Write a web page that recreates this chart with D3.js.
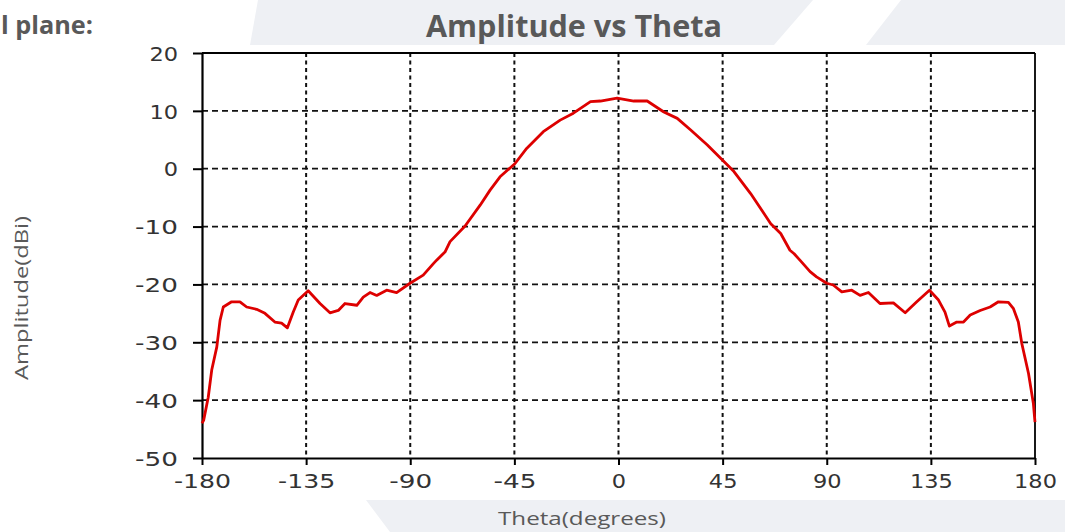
<!DOCTYPE html>
<html>
<head>
<meta charset="utf-8">
<script src="https://cdn.jsdelivr.net/npm/d3@7"></script>
<style>
  html, body { margin: 0; padding: 0; background: #ffffff; }
  svg { display: block; }
</style>
</head>
<body>
<svg id="chart" width="1065" height="532"></svg>
<script>
// ---- data ----
const theta = [-180, -179.3, -177.3, -175.8, -173.6, -172.2, -170.8, -167.2, -163.6, -160.7,
  -156.4, -152.8, -148.5, -145.6, -143.1, -140.6, -138.4, -134.1, -129.0, -124.7,
  -121.1, -118.2, -113.1, -110.3, -107.4, -104.5, -100.2, -95.9, -90.1, -84.4,
  -80.0, -78.6, -75.0, -72.8, -66.3, -59.8, -55.5, -51.2, -44.7, -39.7,
  -32.5, -25.2, -19.5, -12.1, -7.8, -0.6, 6.6, 12.4, 19.6, 25.4,
  31.2, 38.4, 44.9, 49.9, 57.1, 65.8, 70.1, 74.1, 75.9, 78.4,
  82.8, 85.6, 90.0, 92.8, 96.5, 100.8, 104.4, 108.0, 113.0, 118.8,
  123.9, 128.9, 134.4, 138.3, 141.1, 143.0, 146.2, 149.1, 152.0, 156.3,
  160.6, 164.2, 168.5, 170.7, 172.8, 174.3, 177.2, 179.3, 180];
const amplitude = [-44.0, -43.5, -39.5, -34.8, -30.8, -26.2, -23.9, -23.0, -23.0, -23.9,
  -24.3, -25.0, -26.5, -26.7, -27.5, -24.8, -22.7, -21.1, -23.3, -24.9,
  -24.5, -23.3, -23.6, -22.2, -21.4, -21.9, -21.0, -21.4, -19.8, -18.4,
  -16.4, -15.8, -14.4, -12.6, -9.9, -6.3, -3.7, -1.4, 0.9, 3.5,
  6.4, 8.4, 9.6, 11.6, 11.7, 12.2, 11.7, 11.7, 9.8, 8.7,
  6.7, 4.1, 1.5, -0.5, -4.3, -9.5, -11.2, -14.1, -14.7, -15.8,
  -17.8, -18.7, -19.8, -20.1, -21.3, -21.0, -21.9, -21.4, -23.3, -23.2,
  -24.9, -23.0, -21.0, -22.7, -24.8, -27.2, -26.5, -26.5, -25.3, -24.5,
  -23.9, -23.0, -23.1, -24.2, -26.5, -30.2, -35.4, -40.6, -43.8];
const xTicks = [-180, -135, -90, -45, 0, 45, 90, 135, 180];
const yTicks = [-50, -40, -30, -20, -10, 0, 10, 20];
const titleText = "Amplitude vs Theta";
const sideText = "l plane:";
const xLabel = "Theta(degrees)";
const yLabel = "Amplitude(dBi)";

// ---- layout ----
const svg = d3.select("#chart");
const pLeft = 202, pRight = 1035, pTop = 53, pBottom = 458;
const x = d3.scaleLinear().domain([-180, 180]).range([pLeft, pRight]);
const y = d3.scaleLinear().domain([-50, 20]).range([pBottom, pTop]);

// background watermark shapes
const bg = "#eef0f4";
svg.append("path").attr("fill", bg)
  .attr("d", "M258,0 L813,0 L774,45 L250,45 Z");
svg.append("path").attr("fill", bg)
  .attr("d", "M901,0 L1065,0 L1065,45 L866,45 Z");
svg.append("path").attr("fill", bg)
  .attr("d", "M366,500 L1065,500 L1065,532 L390,532 Z");

// titles
svg.append("text").text(sideText)
  .attr("x", 1).attr("y", 34)
  .attr("font-family", "'Open Sans', sans-serif").attr("font-weight", "bold")
  .attr("font-size", 25).attr("fill", "#595959")
  .attr("textLength", 92).attr("lengthAdjust", "spacingAndGlyphs");

svg.append("text").text(titleText)
  .attr("x", 426).attr("y", 37)
  .attr("font-family", "'Open Sans', sans-serif").attr("font-weight", "bold")
  .attr("font-size", 30).attr("fill", "#595959")
  .attr("textLength", 296).attr("lengthAdjust", "spacingAndGlyphs");

svg.append("text").text(xLabel)
  .attr("x", 498).attr("y", 525)
  .attr("font-family", "'Open Sans', sans-serif")
  .attr("font-size", 18).attr("fill", "#595959")
  .attr("textLength", 168).attr("lengthAdjust", "spacingAndGlyphs");

svg.append("text").text(yLabel)
  .attr("transform", "translate(28,380) rotate(-90)")
  .attr("font-family", "'Open Sans', sans-serif")
  .attr("font-size", 19).attr("fill", "#595959")
  .attr("textLength", 164).attr("lengthAdjust", "spacingAndGlyphs");

// grid
const grid = svg.append("g");
grid.selectAll("line.h").data(yTicks.filter(d => d > -50 && d < 20)).enter()
  .append("line").attr("class", "h")
  .attr("x1", pLeft).attr("x2", pRight)
  .attr("y1", d => y(d)).attr("y2", d => y(d))
  .attr("stroke", "#111").attr("stroke-width", 1.8)
  .attr("stroke-dasharray", "6,4");
grid.selectAll("line.v").data(xTicks.filter(d => d > -180 && d < 180)).enter()
  .append("line").attr("class", "v")
  .attr("y1", pTop).attr("y2", pBottom)
  .attr("x1", d => x(d)).attr("x2", d => x(d))
  .attr("stroke", "#111").attr("stroke-width", 2)
  .attr("stroke-dasharray", "4,3.5");

// frame
svg.append("line").attr("x1", pLeft).attr("x2", pRight).attr("y1", pTop).attr("y2", pTop)
  .attr("stroke", "#000").attr("stroke-width", 1.8);
svg.append("line").attr("x1", pRight).attr("x2", pRight).attr("y1", pTop).attr("y2", pBottom)
  .attr("stroke", "#000").attr("stroke-width", 1.8);

// axes
const fmt = d => String(d);
const labelLen = s => 14.3 * s.length;
const xAxis = svg.append("g").attr("transform", `translate(0,${pBottom})`)
  .call(d3.axisBottom(x).tickValues(xTicks).tickFormat(fmt).tickSize(7).tickSizeOuter(0).tickPadding(8));
const yAxis = svg.append("g").attr("transform", `translate(${pLeft},0)`)
  .call(d3.axisLeft(y).tickValues(yTicks).tickFormat(fmt).tickSize(9).tickSizeOuter(0).tickPadding(15));
[xAxis, yAxis].forEach(a => {
  a.select(".domain").attr("stroke", "#000").attr("stroke-width", 2.2);
  a.selectAll(".tick line").attr("stroke", "#000").attr("stroke-width", 2);
  a.selectAll(".tick text")
    .attr("font-family", "'DejaVu Sans', Verdana, sans-serif")
    .attr("font-size", 20).attr("fill", "#333")
    .attr("textLength", function() { return labelLen(this.textContent); })
    .attr("lengthAdjust", "spacingAndGlyphs");
});
xAxis.selectAll(".tick text").attr("dy", "0.75em");
yAxis.selectAll(".tick text").attr("dy", "0.36em");

// curve
const pts = theta.map((t, i) => [t, amplitude[i]]);
svg.append("path").datum(pts)
  .attr("fill", "none").attr("stroke", "#dd0000").attr("stroke-width", 2.8)
  .attr("stroke-linejoin", "round")
  .attr("d", d3.line().x(d => x(d[0])).y(d => y(d[1])));
</script>
</body>
</html>
